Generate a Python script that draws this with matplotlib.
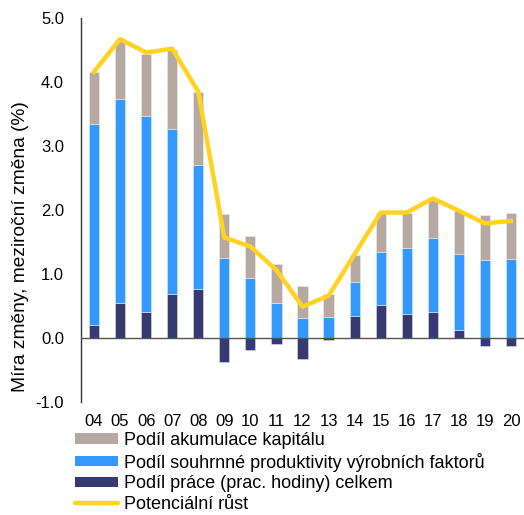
import numpy as np
import matplotlib
matplotlib.use("Agg")
import matplotlib.pyplot as plt
from matplotlib.patches import Patch
from matplotlib.lines import Line2D

plt.rcParams['font.family'] = ['Liberation Sans', 'DejaVu Sans']

years = ["04", "05", "06", "07", "08", "09", "10", "11", "12", "13", "14", "15", "16", "17", "18", "19", "20"]
labor = [0.21, 0.55, 0.41, 0.69, 0.77, -0.37, -0.18, -0.10, -0.33, -0.03, 0.35, 0.51, 0.38, 0.41, 0.12, -0.13, -0.12]
tfp = [3.13, 3.19, 3.06, 2.58, 1.93, 1.25, 0.93, 0.54, 0.32, 0.33, 0.53, 0.83, 1.02, 1.16, 1.19, 1.22, 1.23]
capital = [0.82, 0.92, 0.97, 1.23, 1.14, 0.69, 0.66, 0.62, 0.50, 0.36, 0.42, 0.61, 0.55, 0.59, 0.67, 0.70, 0.72]
potential = [4.16, 4.67, 4.46, 4.52, 3.85, 1.57, 1.43, 1.06, 0.49, 0.66, 1.31, 1.96, 1.96, 2.18, 1.99, 1.79, 1.83]

labels = ["Podíl akumulace kapitálu",
          "Podíl souhrnné produktivity výrobních faktorů",
          "Podíl práce (prac. hodiny) celkem",
          "Potenciální růst"]

c_cap = "#B5A9A1"
c_tfp = "#3399FF"
c_lab = "#363A70"
c_pot = "#FFD320"

fig = plt.figure(figsize=(5.24, 5.15), dpi=100)
ax = fig.add_axes([81/524, 1 - 402/515, 443/524, 384/515])

x = np.arange(len(years))
lab = np.array(labor)
tf = np.array(tfp)
cp = np.array(capital)
base = np.clip(lab, 0, None)
w = 0.39
ax.bar(x, lab, width=w, color=c_lab, edgecolor="#DDDDEE", linewidth=0.4, zorder=2)
ax.bar(x, tf, width=w, bottom=base, color=c_tfp, edgecolor="#DDEEFF", linewidth=0.4, zorder=2)
ax.bar(x, cp, width=w, bottom=base + tf, color=c_cap, edgecolor="#EEEEEE", linewidth=0.4, zorder=2)
ax.axhline(0, color="#555555", linewidth=1.0, zorder=3)
ax.plot(x, potential, color=c_pot, linewidth=3.2, zorder=4)

ax.set_xlim(-0.5, 16.5)
ax.set_ylim(-1.0, 5.0)
ax.set_yticks(np.arange(-1, 5.1, 1))
ax.set_yticklabels([f"{v:.1f}" for v in np.arange(-1, 5.1, 1)])
ax.set_xticks(x)
ax.set_xticklabels(years)
ax.tick_params(axis='both', length=0, labelsize=12, colors="#000000")
ax.tick_params(axis='y', pad=12.2)
ax.tick_params(axis='x', pad=9)
for s in ["top", "right", "bottom"]:
    ax.spines[s].set_visible(False)
ax.spines["left"].set_color("#333333")
ax.spines["left"].set_linewidth(1.0)

ylab = ax.set_ylabel("Míra změny, meziroční změna (%)", fontsize=12)
ax.yaxis.set_label_coords(-0.1185, 0.406)
# scale the label so its length matches the reference (~290 px)
fig.canvas.draw()
bb = ylab.get_window_extent(fig.canvas.get_renderer())
ylab.set_fontsize(12 * 290.0 / bb.height)

handles = [Patch(facecolor=c_cap, edgecolor="none"),
           Patch(facecolor=c_tfp, edgecolor="none"),
           Patch(facecolor=c_lab, edgecolor="none"),
           Line2D([0], [0], color=c_pot, linewidth=3.2, solid_capstyle="round")]
fig.legend(handles, labels, loc="upper left", bbox_to_anchor=(75/524, 1 - 432/515),
           frameon=False, fontsize=13, handlelength=2.4, handleheight=0.5,
           handletextpad=0.3, labelspacing=0.2, borderaxespad=0, borderpad=0)

fig.savefig("out.png", dpi=100)
